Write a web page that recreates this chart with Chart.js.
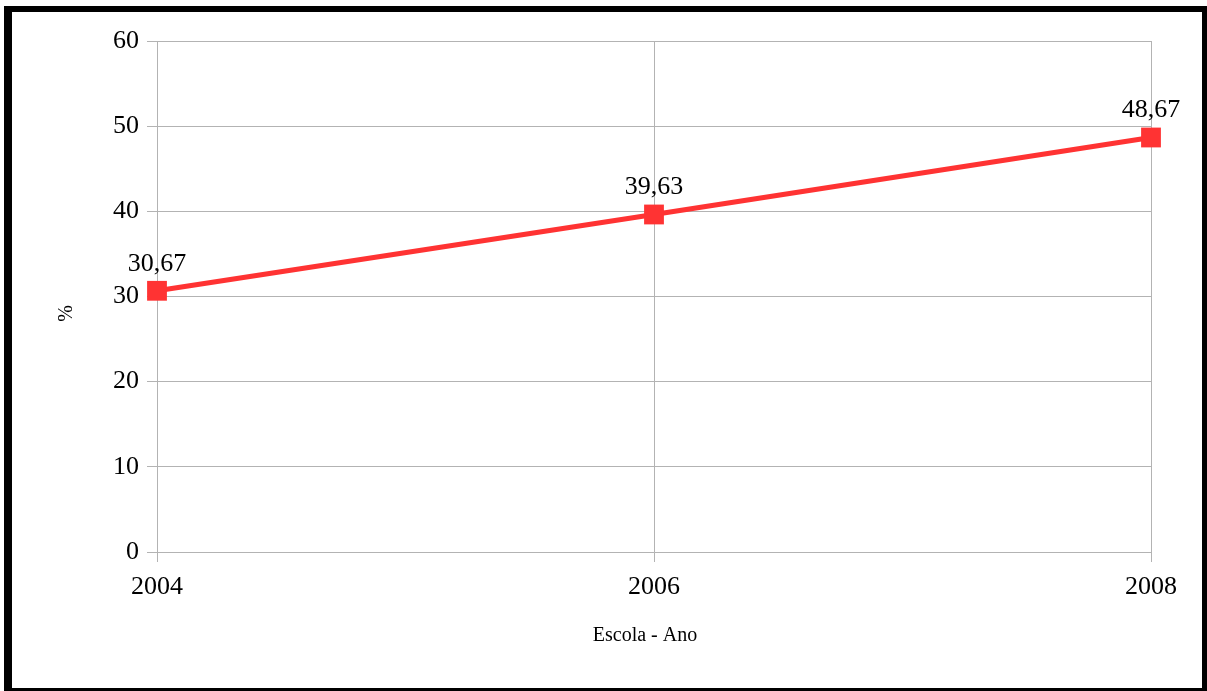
<!DOCTYPE html>
<html>
<head>
<meta charset="utf-8">
<script src="https://cdn.jsdelivr.net/npm/chart.js@4/dist/chart.umd.min.js"></script>
<style>
  html, body { margin: 0; padding: 0; background: #fff; }
  #wrap { position: relative; width: 1207px; height: 691px; }
  #frame {
    position: absolute; left: 4px; top: 6px; right: 0; bottom: 0;
    border-left: 8px solid #000; border-top: 6px solid #000;
    border-right: 5px solid #000; border-bottom: 3px solid #000;
    pointer-events: none;
  }
  canvas { position: absolute; left: 0; top: 0; }
</style>
</head>
<body>
<div id="wrap">
  <canvas id="myChart" width="1207" height="691"></canvas>
  <div id="frame"></div>
</div>
<script>
// setup
const anos = ["2004", "2006", "2008"];
const percentuais = [30.67, 39.63, 48.67];
const rotulos = ["30,67", "39,63", "48,67"];

const serif = "'Liberation Serif', 'Times New Roman', serif";
const grade = "#b3b3b3";

// value labels above each point, plus the two axis titles
const valueLabels = {
  id: "valueLabels",
  afterDatasetsDraw(chart) {
    const ctx = chart.ctx;
    const meta = chart.getDatasetMeta(0);
    const area = chart.chartArea;
    ctx.save();
    ctx.font = "26px " + serif;
    ctx.fillStyle = "#000";
    ctx.textAlign = "center";
    ctx.textBaseline = "alphabetic";
    meta.data.forEach((pt, i) => {
      ctx.fillText(rotulos[i], pt.x, pt.y - 20);
    });

    ctx.font = "20px " + serif;
    ctx.textBaseline = "middle";
    ctx.fillText("Escola - Ano", (area.left + area.right) / 2 - 9, area.bottom + 84);

    ctx.translate(area.left - 90, (area.top + area.bottom) / 2 + 17);
    ctx.rotate(-Math.PI / 2);
    ctx.fillText("%", 0, 0);
    ctx.restore();
  },
};

// config
const config = {
  type: "line",
  data: {
    labels: anos,
    datasets: [
      {
        label: "",
        data: percentuais,
        borderColor: "#ff3333",
        backgroundColor: "#ff3333",
        borderWidth: 5,
        pointStyle: "rect",
        pointRadius: 14,
        pointBorderWidth: 0,
        pointBackgroundColor: "#ff3333",
        tension: 0,
      },
    ],
  },
  options: {
    responsive: false,
    animation: false,
    layout: {
      padding: { left: 20, right: 56, top: 41, bottom: 0 },
    },
    scales: {
      y: {
        min: 0,
        max: 60,
        ticks: {
          stepSize: 10,
          padding: 8,
          color: "#000",
          font: { family: serif, size: 26 },
        },
        grid: {
          color: grade,
          lineWidth: 1,
          tickLength: 10,
        },
        border: { color: grade },
        afterFit(scale) {
          scale.width = 137;
        },
      },
      x: {
        offset: false,
        ticks: {
          padding: 10,
          color: "#000",
          font: { family: serif, size: 26 },
          maxRotation: 0,
        },
        grid: {
          color: grade,
          lineWidth: 1,
          tickLength: 10,
        },
        border: { color: grade },
        afterFit(scale) {
          scale.height = 139;
        },
      },
    },
    plugins: {
      legend: { display: false },
      tooltip: { enabled: false },
    },
  },
  plugins: [valueLabels],
};

// render init block
const myChart = new Chart(document.getElementById("myChart"), config);
</script>
</body>
</html>
